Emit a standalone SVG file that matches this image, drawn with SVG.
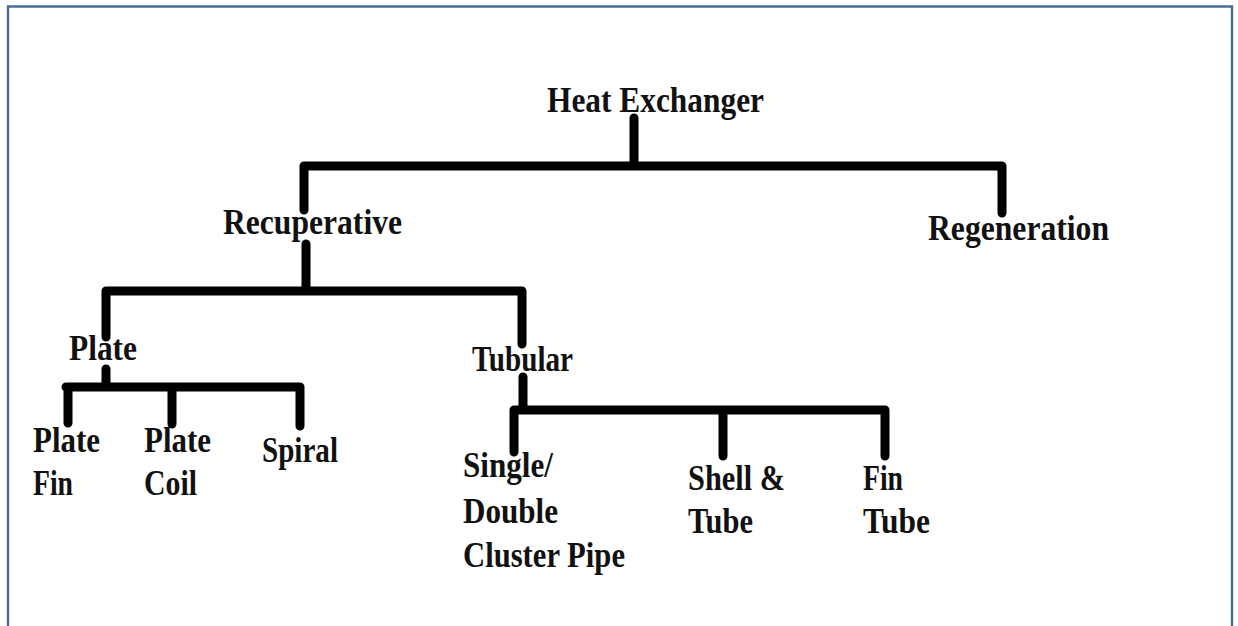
<svg xmlns="http://www.w3.org/2000/svg" width="1238" height="626" viewBox="0 0 1238 626">
<style>
.t{font-family:"Liberation Serif","Times New Roman",serif;font-weight:bold;font-size:35px;fill:#111}
.c{fill:none;stroke:#000;stroke-width:9;stroke-linecap:round;stroke-linejoin:round}
</style>
<rect x="0" y="0" width="1238" height="626" fill="#fff"/>
<rect x="8" y="6.5" width="1224" height="640" fill="none" stroke="#4d6b98" stroke-width="2.5"/>
<g id="connectors">
<path class="c" d="M634 118V166M304 210V166H1002V213"/>
<path class="c" d="M306 244V291M106 337V291H522V344"/>
<path class="c" d="M106 369V387M66 387H300V426M68 387V423M172 387V424"/>
<path class="c" d="M523 377V410M514 452V410H885V456M723 410V456"/>
</g>
<g id="heat-exchanger"><text class="t" x="547" y="112" textLength="217" lengthAdjust="spacingAndGlyphs">Heat Exchanger</text></g>
<g id="recuperative"><text class="t" x="223" y="234" textLength="179" lengthAdjust="spacingAndGlyphs">Recuperative</text></g>
<g id="regeneration"><text class="t" x="928" y="240" textLength="181" lengthAdjust="spacingAndGlyphs">Regeneration</text></g>
<g id="plate"><text class="t" x="69" y="360" textLength="68" lengthAdjust="spacingAndGlyphs">Plate</text></g>
<g id="tubular"><text class="t" x="472" y="371" textLength="101" lengthAdjust="spacingAndGlyphs">Tubular</text></g>
<g id="plate-fin"><text class="t" x="33" y="452" textLength="67" lengthAdjust="spacingAndGlyphs">Plate</text><text class="t" x="33" y="495" textLength="40" lengthAdjust="spacingAndGlyphs">Fin</text></g>
<g id="plate-coil"><text class="t" x="144" y="452" textLength="67" lengthAdjust="spacingAndGlyphs">Plate</text><text class="t" x="144" y="495" textLength="53" lengthAdjust="spacingAndGlyphs">Coil</text></g>
<g id="spiral"><text class="t" x="262" y="462" textLength="76" lengthAdjust="spacingAndGlyphs">Spiral</text></g>
<g id="single-double"><text class="t" x="463" y="477" textLength="90" lengthAdjust="spacingAndGlyphs">Single/</text><text class="t" x="463" y="523" textLength="95" lengthAdjust="spacingAndGlyphs">Double</text><text class="t" x="463" y="567" textLength="162" lengthAdjust="spacingAndGlyphs">Cluster Pipe</text></g>
<g id="shell-tube"><text class="t" x="688" y="490" textLength="97" lengthAdjust="spacingAndGlyphs">Shell &amp;</text><text class="t" x="688" y="533" textLength="65" lengthAdjust="spacingAndGlyphs">Tube</text></g>
<g id="fin-tube"><text class="t" x="863" y="490" textLength="40" lengthAdjust="spacingAndGlyphs">Fin</text><text class="t" x="863" y="533" textLength="67" lengthAdjust="spacingAndGlyphs">Tube</text></g>
</svg>
